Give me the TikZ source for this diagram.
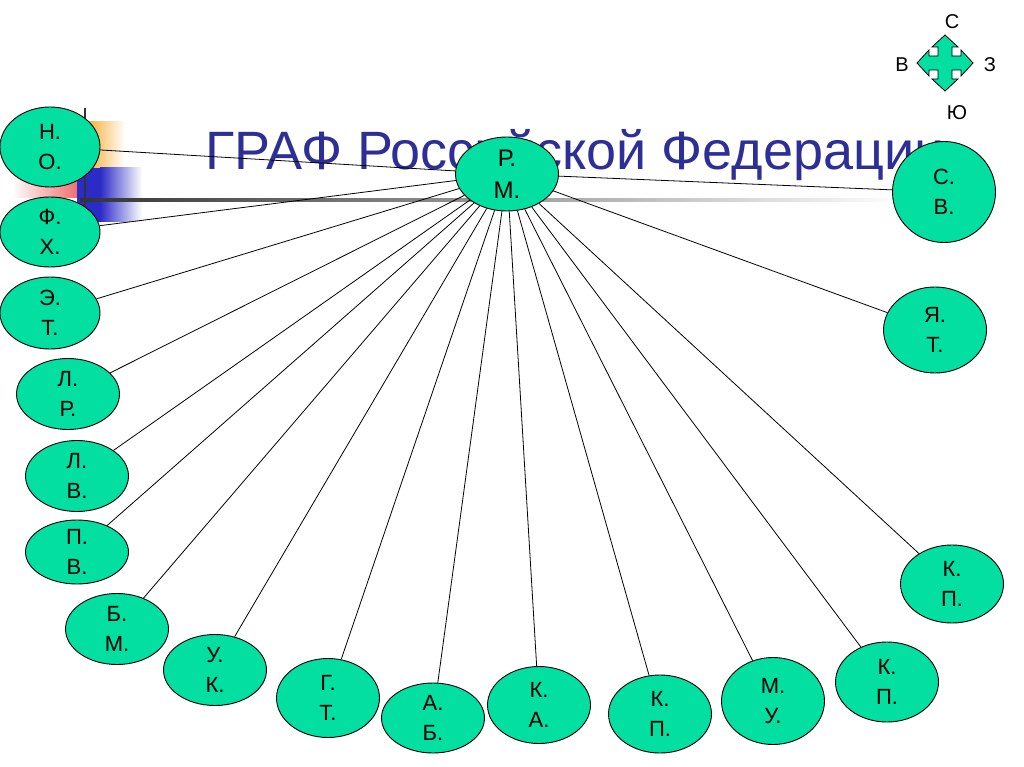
\documentclass[tikz,border=0pt]{standalone}
\usepackage{fontspec}
\setmainfont{Liberation Sans}
\newfontfamily\titlefont{Liberation Sans}
\usetikzlibrary{shapes.geometric}
\definecolor{RegionFill}{HTML}{03DEA1}
\definecolor{TitleInk}{HTML}{2D2F96}
\definecolor{OrangeBar}{HTML}{F7B03C}
\definecolor{PinkBar}{HTML}{F07070}
\definecolor{BlueBar}{HTML}{2B2BC8}
\pgfdeclarelayer{background}
\pgfsetlayers{background,main}
\tikzset{
  graph/.style={x=1pt,y=-1pt,font=\fontsize{22}{30}\selectfont},
  region/.style={ellipse,draw=black,line width=0.9pt,fill=RegionFill,inner sep=0pt,
    align=center,minimum width=103pt,minimum height=72pt},
  link/.style={draw=black,line width=0.8pt},
  compass/.style={font=\fontsize{20}{24}\selectfont,inner sep=0pt},
}

\begin{document}
\begin{tikzpicture}[graph]
  \useasboundingbox (0,0) rectangle (1024,767);

  % regions
  \node[region,minimum height=74pt,font=\fontsize{24}{32}\selectfont] (RM) at (507,174) {Р.\\М.};
  \node[region,minimum width=100pt,minimum height=80pt] (NO) at (50,147) {Н.\\О.};
  \node[region,minimum width=100pt,minimum height=70pt] (FX) at (50,232) {Ф.\\Х.};
  \node[region,minimum width=100pt] (ET) at (50,313) {Э.\\Т.};
  \node[region,minimum height=71pt] (LR) at (68,394) {Л.\\Р.};
  \node[region,minimum height=71pt] (LV) at (77,476) {Л.\\В.};
  \node[region,minimum height=64pt] (PV) at (77,552) {П.\\В.};
  \node[region,minimum height=71pt] (BM) at (117,629) {Б.\\М.};
  \node[region,minimum height=71pt] (UK) at (215,670) {У.\\К.};
  \node[region,minimum height=79pt] (GT) at (328,698) {Г.\\Т.};
  \node[region,minimum height=70pt] (AB) at (433,718) {А.\\Б.};
  \node[region,minimum height=77pt] (KA) at (539,705) {К.\\А.};
  \node[region,minimum height=78pt] (KPa) at (660,714) {К.\\П.};
  \node[region,minimum height=87pt] (MU) at (773,701) {М.\\У.};
  \node[region,minimum height=80pt] (KPb) at (887,682) {К.\\П.};
  \node[region,minimum height=78pt] (KPc) at (952,584) {К.\\П.};
  \node[region,minimum height=101pt] (SV) at (944,192) {С.\\В.};
  \node[region,minimum height=86pt] (YT) at (935,330) {Я.\\Т.};

  % compass
  \draw[fill=RegionFill,line width=0.8pt,shift={(945,63)}]
    (0,-28) -- (13,-16) -- (7,-16) -- (7,-7) -- (16,-7) -- (16,-13) -- (28,0)
    -- (16,13) -- (16,7) -- (7,7) -- (7,16) -- (13,16) -- (0,28)
    -- (-13,16) -- (-7,16) -- (-7,7) -- (-16,7) -- (-16,13) -- (-28,0)
    -- (-16,-13) -- (-16,-7) -- (-7,-7) -- (-7,-16) -- (-13,-16) -- cycle;
  \node[compass] (north) at (952,22) {С};
  \node[compass] (west) at (902,65) {В};
  \node[compass] (east) at (990,65) {З};
  \node[compass] (south) at (957,113) {Ю};

  \begin{pgfonlayer}{background}
    % slide decoration
    \shade[left color=OrangeBar,right color=white] (88,122) rectangle (125,168);
    \shade[left color=white,right color=PinkBar] (12,168) rectangle (77,198);
    \fill[BlueBar] (77,168) rectangle (100,222);
    \shade[left color=BlueBar,right color=white] (100,168) rectangle (142,222);
    \draw[line width=2pt,black!80] (85,108) -- (85,208);
    \shade[left color=black!80,middle color=black!40,right color=white] (80,198.5) rectangle (905,201.5);
    \node[anchor=base west,inner sep=0pt,text=TitleInk,font=\titlefont\fontsize{54}{60}\selectfont]
      (title) at (205,170) {ГРАФ Российской Федерации};
    % links
    \foreach \n in {NO,FX,ET,LR,LV,PV,BM,UK,GT,AB,KA,KPa,MU,KPb,KPc,SV,YT}
      \draw[link] (RM) -- (\n);
  \end{pgfonlayer}
\end{tikzpicture}
\end{document}
